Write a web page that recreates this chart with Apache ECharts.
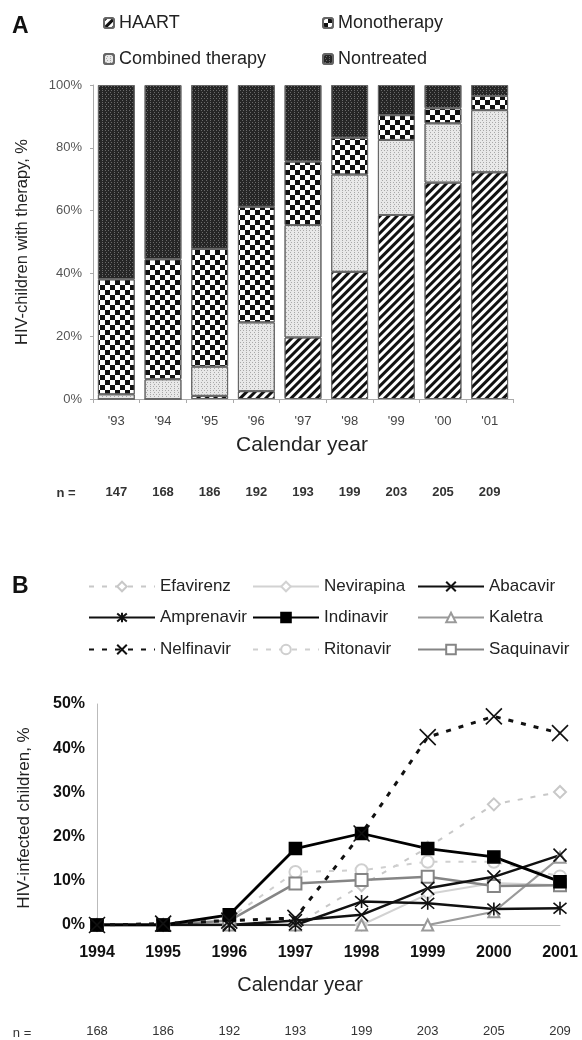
<!DOCTYPE html>
<html>
<head>
<meta charset="utf-8">
<script src="https://cdn.jsdelivr.net/npm/echarts@6/dist/echarts.min.js"></script>
<style>
html,body{margin:0;padding:0;background:#fff;}
#c{width:582px;height:1040px;}
</style>
</head>
<body>
<div id="c"></div>
<script>
// ---------- Panel A data ----------
const yearsA = ["'93","'94","'95","'96","'97","'98","'99","'00","'01"];
const nA = [147,168,186,192,193,199,203,205,209];
const haart      = [0, 0, 1, 2.5, 19.6, 40.5, 58.6, 68.9, 72.2];
const combined   = [1.5, 6.3, 9.3, 21.9, 35.8, 31, 23.9, 18.9, 19.8];
const mono       = [36.6, 38.2, 37.5, 36.8, 20.2, 11.7, 7.9, 4.8, 4.5];
const nontreated = [61.9, 55.5, 52.2, 38.8, 24.4, 16.8, 9.6, 7.4, 3.5];
const ticksA = [0, 20, 40, 60, 80, 100];

// ---------- Panel B data ----------
const yearsB = ['1994','1995','1996','1997','1998','1999','2000','2001'];
const nB = [168,186,192,193,199,203,205,209];
const efavirenz  = [0, 0, 0, 0, 9, 17.5, 27.3, 30.1];
const nevirapina = [0, 0, 0, 0, 0, 7, 9.5, 9];
const abacavir   = [0, 0, 0, 1, 2.3, 8.3, 10.9, 15.8];
const amprenavir = [0, 0, 0, 0, 5.3, 4.9, 3.6, 3.8];
const indinavir  = [0, 0, 2.3, 17.3, 20.7, 17.3, 15.4, 9.8];
const kaletra    = [0, 0, 0, 0, 0, 0, 3, 15.3];
const nelfinavir = [0, 0.3, 1, 1.6, 20.7, 42.5, 47.2, 43.4];
const ritonavir  = [0, 0, 1.5, 12, 12.4, 14.3, 14.3, 11];
const saquinavir = [0, 0, 1, 9.4, 10.2, 10.9, 8.8, 9];
const ticksB = [0, 10, 20, 30, 40, 50];

const FONT = "'Liberation Sans', Arial, sans-serif";
const chart = echarts.init(document.getElementById('c'), null, {renderer: 'canvas'});

const X_PATH = 'path://M0,0L10,10M10,0L0,10';
const AST_PATH = 'path://M0,0L10,10M10,0L0,10M5,-1L5,11';

function barSeries(name, data, color, decal) {
  return {
    name: name, type: 'bar', stack: 'a', xAxisIndex: 0, yAxisIndex: 0,
    data: data, barCategoryGap: '21%',
    itemStyle: {color: color, borderColor: '#666', borderWidth: 1, decal: decal},
    emphasis: {disabled: true}
  };
}
function lineSeries(name, data, color, width, type, symbol, size) {
  return {
    name: name, type: 'line', xAxisIndex: 2, yAxisIndex: 1, data: data,
    symbol: symbol, symbolSize: size, showAllSymbol: true,
    lineStyle: {color: color, width: width, type: type},
    itemStyle: {color: color, borderColor: color, borderWidth: 1.6},
    emphasis: {disabled: true}
  };
}

const decalHaart = {symbol: 'rect', symbolSize: 1, dashArrayX: [1, 0], dashArrayY: [3, 3], rotation: -Math.PI / 4, color: '#111'};
const decalComb  = {symbol: 'rect', symbolSize: 1, dashArrayX: [[1, 2], [0, 1.5, 1, 0.5]], dashArrayY: [1, 1], color: '#a8a8a8'};
const decalMono  = {symbol: 'rect', symbolSize: 1, dashArrayX: [[5, 5], [0, 5, 5, 0]], dashArrayY: [5, 0], color: '#111'};
const decalNon   = {symbol: 'rect', symbolSize: 1, dashArrayX: [[1, 2], [0, 1.5, 1, 0.5]], dashArrayY: [1, 1], color: '#6a6a6a'};

const legA = (name, left, top) => ({
  data: [name], left: left, top: top, padding: 0, itemWidth: 10, itemHeight: 10,
  textStyle: {fontFamily: FONT, fontSize: 18, color: '#222'}, selectedMode: false
});
const legB = (name, left, top) => ({
  data: [name], left: left, top: top, padding: 0, itemWidth: 66, itemHeight: 12,
  textStyle: {fontFamily: FONT, fontSize: 17, color: '#222'}, selectedMode: false
});

const option = {
  animation: false,
  backgroundColor: '#fff',
  legend: [
    legA('HAART', 103, 14), legA('Monotherapy', 322, 14),
    legA('Combined therapy', 103, 50), legA('Nontreated', 322, 50),
    legB('Efavirenz', 88, 578), legB('Nevirapina', 252, 578), legB('Abacavir', 417, 578),
    legB('Amprenavir', 88, 609), legB('Indinavir', 252, 609), legB('Kaletra', 417, 609),
    legB('Nelfinavir', 88, 641), legB('Ritonavir', 252, 641), legB('Saquinavir', 417, 641)
  ],
  grid: [
    {left: 93, top: 85, width: 420, height: 314},
    {left: 97, top: 704, width: 463, height: 221}
  ],
  xAxis: [
    {type: 'category', gridIndex: 0, data: yearsA,
     axisLine: {lineStyle: {color: '#aaa'}}, axisTick: {show: true, length: 4, lineStyle: {color: '#aaa'}},
     axisLabel: {fontFamily: FONT, fontSize: 13, color: '#444', margin: 16}},
    {type: 'category', gridIndex: 0, data: nA, position: 'bottom', offset: 87,
     axisLine: {show: false}, axisTick: {show: false},
     axisLabel: {fontFamily: FONT, fontSize: 13, fontWeight: 'bold', color: '#333', margin: 0}},
    {type: 'category', gridIndex: 1, data: yearsB, boundaryGap: false,
     axisLine: {lineStyle: {color: '#bbb'}}, axisTick: {show: false},
     axisLabel: {fontFamily: FONT, fontSize: 16, fontWeight: 'bold', color: '#111', margin: 20}},
    {type: 'category', gridIndex: 1, data: nB, boundaryGap: false, position: 'bottom', offset: 100,
     axisLine: {show: false}, axisTick: {show: false},
     axisLabel: {fontFamily: FONT, fontSize: 13, color: '#333', margin: 0}}
  ],
  yAxis: [
    {type: 'value', gridIndex: 0, min: ticksA[0], max: ticksA[ticksA.length - 1], interval: 20,
     axisLine: {show: true, lineStyle: {color: '#aaa'}}, axisTick: {show: true, length: 3, lineStyle: {color: '#aaa'}},
     splitLine: {show: false},
     axisLabel: {fontFamily: FONT, fontSize: 13, color: '#555', formatter: '{value}%', margin: 11}},
    {type: 'value', gridIndex: 1, min: ticksB[0], max: ticksB[ticksB.length - 1], interval: 10,
     axisLine: {show: true, lineStyle: {color: '#bbb'}}, axisTick: {show: false},
     splitLine: {show: false},
     axisLabel: {fontFamily: FONT, fontSize: 16, fontWeight: 'bold', color: '#111', formatter: '{value}%', margin: 12}}
  ],
  graphic: [
    {type: 'text', left: 12, top: 15, style: {text: 'A', font: 'bold 23px ' + FONT, fill: '#111'}},
    {type: 'text', left: 12, top: 575, style: {text: 'B', font: 'bold 23px ' + FONT, fill: '#111'}},
    {type: 'text', x: 22, y: 242, rotation: Math.PI / 2,
     style: {text: 'HIV-children with therapy, %', font: '16.5px ' + FONT, fill: '#222', align: 'center', verticalAlign: 'middle'}},
    {type: 'text', x: 302, y: 445,
     style: {text: 'Calendar year', font: '21px ' + FONT, fill: '#222', align: 'center', verticalAlign: 'middle'}},
    {type: 'text', x: 66, y: 493,
     style: {text: 'n =', font: 'bold 13px ' + FONT, fill: '#333', align: 'center', verticalAlign: 'middle'}},
    {type: 'text', x: 24, y: 818, rotation: Math.PI / 2,
     style: {text: 'HIV-infected children, %', font: '17px ' + FONT, fill: '#222', align: 'center', verticalAlign: 'middle'}},
    {type: 'text', x: 300, y: 985,
     style: {text: 'Calendar year', font: '20px ' + FONT, fill: '#222', align: 'center', verticalAlign: 'middle'}},
    {type: 'text', x: 22, y: 1033,
     style: {text: 'n =', font: '13px ' + FONT, fill: '#333', align: 'center', verticalAlign: 'middle'}}
  ],
  series: [
    barSeries('HAART', haart, '#ffffff', decalHaart),
    barSeries('Combined therapy', combined, '#e8e8e8', decalComb),
    barSeries('Monotherapy', mono, '#ffffff', decalMono),
    barSeries('Nontreated', nontreated, '#262626', decalNon),
    lineSeries('Efavirenz', efavirenz, '#c8c8c8', 2, [5, 8], 'emptyDiamond', 12),
    lineSeries('Nevirapina', nevirapina, '#d2d2d2', 2, 'solid', 'emptyDiamond', 11),
    lineSeries('Kaletra', kaletra, '#9a9a9a', 2.2, 'solid', 'emptyTriangle', 11),
    lineSeries('Ritonavir', ritonavir, '#cfcfcf', 2, [5, 8], 'emptyCircle', 12),
    lineSeries('Saquinavir', saquinavir, '#858585', 2.5, 'solid', 'emptyRect', 12),
    lineSeries('Amprenavir', amprenavir, '#111', 2.5, 'solid', AST_PATH, 13),
    lineSeries('Abacavir', abacavir, '#111', 2.5, 'solid', X_PATH, 13),
    lineSeries('Indinavir', indinavir, '#000', 2.8, 'solid', 'rect', 12),
    lineSeries('Nelfinavir', nelfinavir, '#111', 3, [5, 8], X_PATH, 16)
  ]
};
chart.setOption(option);
</script>
</body>
</html>
